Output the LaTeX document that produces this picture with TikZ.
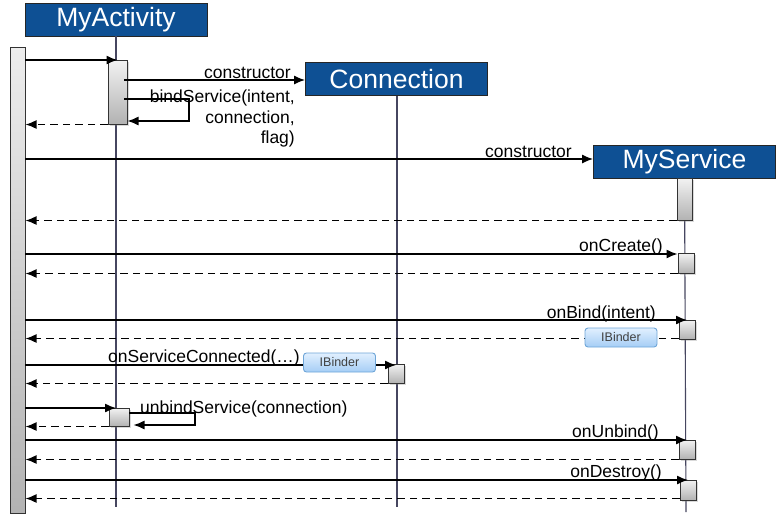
\documentclass[tikz,border=0pt]{standalone}
\usepackage{fontspec}
\setmainfont{Liberation Sans}
\usetikzlibrary{arrows.meta,shadows}
\definecolor{hdblue}{RGB}{14,80,148}
\definecolor{lifec}{RGB}{70,70,96}
\definecolor{badgeb}{RGB}{110,165,215}
\definecolor{badgetop}{RGB}{225,240,255}
\definecolor{badgebot}{RGB}{165,205,245}
\begin{document}
\begin{tikzpicture}[x=1pt,y=-1pt,
  head/.style={draw=black!85, line width=0.9pt, fill=hdblue, text=white,
    font=\fontsize{26.5}{30}\selectfont, minimum width=182pt, minimum height=33pt, inner sep=0pt},
  actbox/.style={draw=black!80, line width=1pt, top color=black!5, bottom color=black!30,
    inner sep=0pt, drop shadow={opacity=0.3, shadow xshift=1.5pt, shadow yshift=-1.5pt}},
  life/.style={draw=lifec, line width=1.1pt},
  msg/.style={-{Latex[length=11pt,width=9pt]}, line width=1.3pt},
  ret/.style={msg, line width=1.5pt, dash pattern=on 7.5pt off 5pt},
  lbl/.style={font=\fontsize{17.5}{20.5}\selectfont, inner sep=0pt},
  badge/.style={rounded corners=3pt, draw=badgeb, line width=0.9pt, top color=badgetop,
    bottom color=badgebot, text=black!75, font=\fontsize{12.5}{14}\selectfont,
    minimum width=72pt, minimum height=19pt, inner sep=0pt}
]
\useasboundingbox (0,0) rectangle (779,515);

% heads
\node[head] (act) at (116,19.5) {MyActivity};
\node[head] (con) at (396.5,79) {Connection};
\node[head] (srv) at (684.5,161.5) {MyService};

% lifelines
\coordinate (actEnd) at (116,507);
\coordinate (conEnd) at (397,507);
\coordinate (srvEnd) at (686,512);
\draw[life] (act.south -| actEnd) -- (actEnd);
\draw[life] (con.south -| conEnd) -- (conEnd);
\draw[life] (srv.south) -- (srvEnd);

% caller bar
\node[draw=black!80, line width=1pt, top color=black!7, bottom color=black!30,
  minimum width=15pt, minimum height=466pt, inner sep=0pt] (bar) at (17.5,280) {};

% activations
\node[actbox, minimum width=19pt, minimum height=64pt] (a1) at (117.5,92) {};
\node[actbox, minimum width=15pt, minimum height=42pt] (s1) at (684.5,199) {};
\node[actbox, minimum width=16pt, minimum height=20pt] (s2) at (686,263) {};
\node[actbox, minimum width=16pt, minimum height=19pt] (s3) at (687,329.5) {};
\node[actbox, minimum width=16pt, minimum height=19pt] (c1) at (396,373.5) {};
\node[actbox, minimum width=20pt, minimum height=18pt] (a2) at (119,417) {};
\node[actbox, minimum width=16pt, minimum height=19pt] (s4) at (687,449.5) {};
\node[actbox, minimum width=16pt, minimum height=20pt] (s5) at (688,490) {};

% message levels
\coordinate (m1) at (25,60);
\coordinate (m2) at (124,80);
\coordinate (m3) at (124,99);
\coordinate (m3r) at (189,121);
\coordinate (m5) at (25,159);
\coordinate (m7) at (25,254);
\coordinate (m9) at (25,320);
\coordinate (m11) at (25,365);
\coordinate (m13) at (25,408);
\coordinate (m14) at (129,413);
\coordinate (m14r) at (195,425);
\coordinate (m16) at (25,440);
\coordinate (m18) at (25,480);

% MyActivity call
\draw[msg] (m1) -- (m1 -| a1.north);
\draw[msg] (m2) -- (m2 -| con.west);
\node[lbl, anchor=base east] (lc1) at (291,78) {constructor};
\draw[msg] (m3) -| (m3r) -- (m3r -| a1.east);
\node[lbl, anchor=north east, align=right] (lbs) at (295,90) {bindService(intent,\\connection,\\flag)};
\draw[ret] (a1.south west) -- (a1.south west -| bar.east);

% MyService constructor
\draw[msg] (m5) -- (m5 -| srv.west);
\node[lbl, anchor=base east] (lc2) at (572,157) {constructor};
\draw[ret] (s1.south west) -- (s1.south west -| bar.east);

% onCreate
\draw[msg] (m7) -- (m7 -| s2.west);
\node[lbl, anchor=base east] (lcr) at (663,251) {onCreate()};
\draw[ret] (s2.south west) -- (s2.south west -| bar.east);

% onBind
\draw[msg] (m9) -- (m9 -| s3.north);
\node[lbl, anchor=base east] (lbd) at (656,318) {onBind(intent)};
\draw[ret] ([yshift=1pt]s3.south west) -- ([yshift=1pt]s3.south west -| bar.east);
\node[badge] (ib1) at (621,337.5) {IBinder};

% onServiceConnected
\draw[msg] (m11) -- (m11 -| c1.north);
\node[lbl, anchor=base west] (lsc) at (108,362) {onServiceConnected(\dots)};
\node[badge] (ib2) at (339.5,362.5) {IBinder};
\draw[ret] (c1.south west) -- (c1.south west -| bar.east);

% unbindService
\draw[msg] (m13) -- (m13 -| actEnd);
\draw[msg] (m14) -| (m14r) -- ([xshift=4pt]m14r -| a2.east);
\node[lbl, anchor=base west] (lub) at (140,413) {unbindService(connection)};
\draw[ret] (a2.south west) -- (a2.south west -| bar.east);

% onUnbind
\draw[msg] (m16) -- (m16 -| s4.north);
\node[lbl, anchor=base east] (lun) at (659,437) {onUnbind()};
\draw[ret] (s4.south west) -- (s4.south west -| bar.east);

% onDestroy
\draw[msg] (m18) -- (m18 -| s5.north);
\node[lbl, anchor=base east] (lds) at (662,477) {onDestroy()};
\draw[ret] ([yshift=2pt]s5.south west) -- ([yshift=2pt]s5.south west -| bar.east);
\end{tikzpicture}
\end{document}
